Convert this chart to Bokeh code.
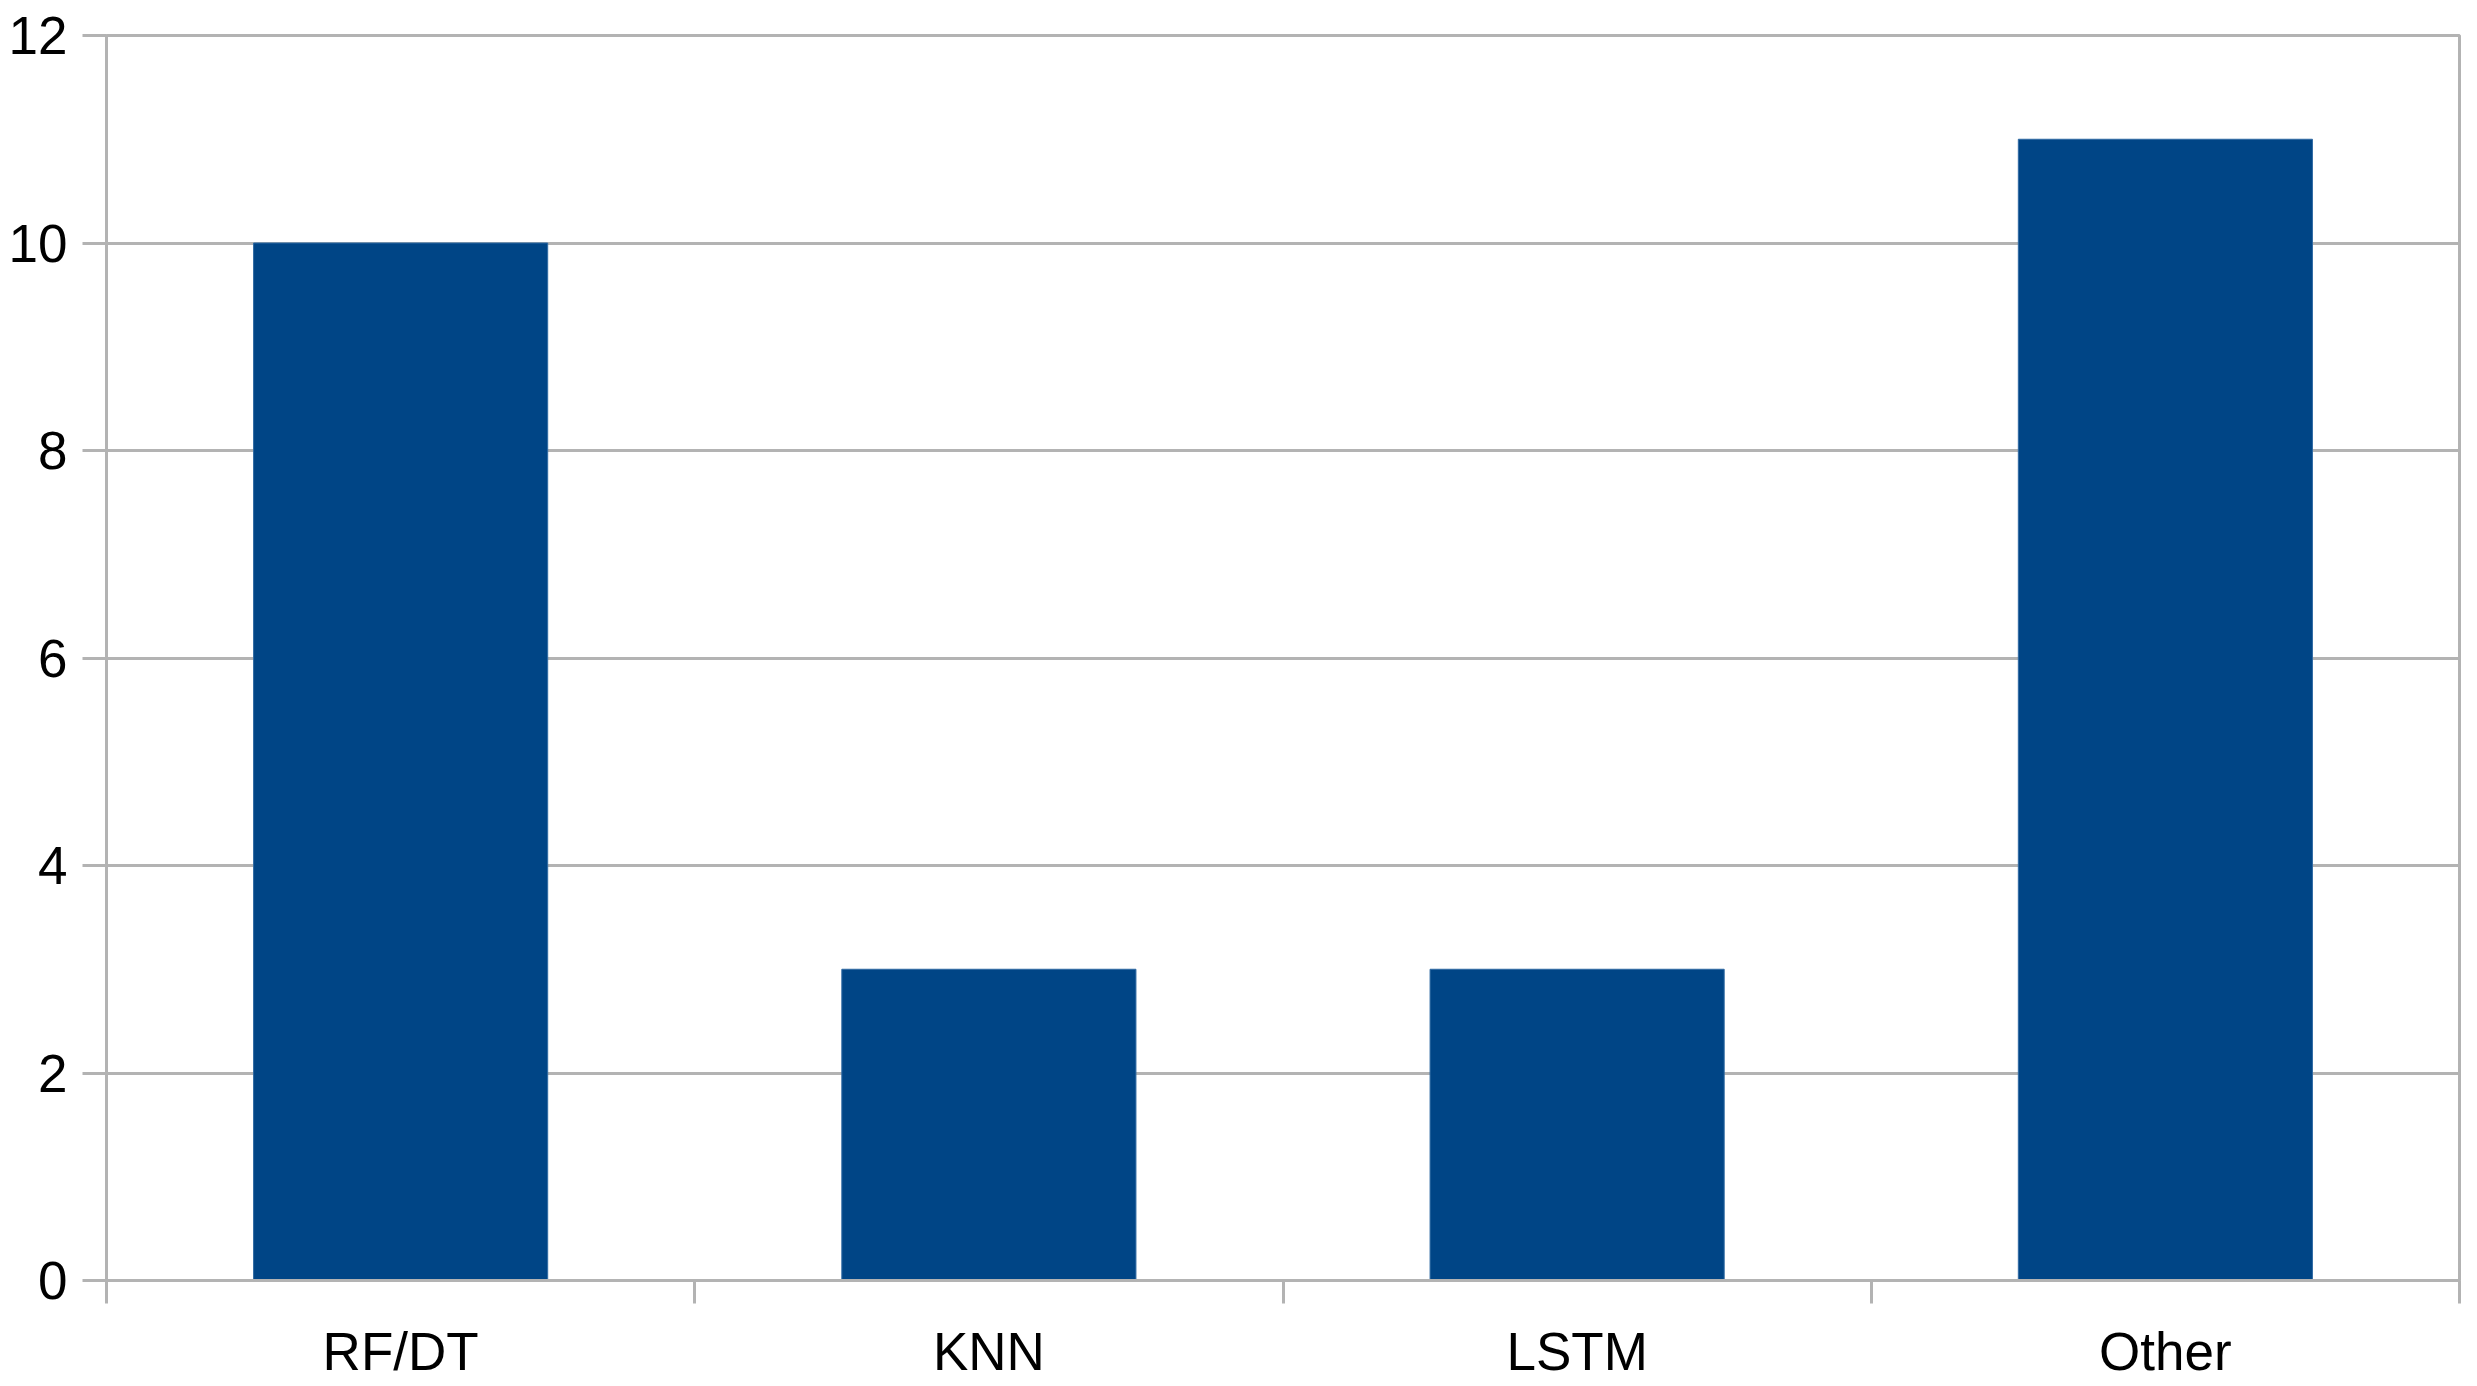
from bokeh.plotting import figure
from bokeh.models import Range1d, FixedTicker, ColumnDataSource
from bokeh.embed import file_html
from bokeh.resources import INLINE

categories = ["RF/DT", "KNN", "LSTM", "Other"]
counts = [10, 3, 3, 11]
y_ticks = [0, 2, 4, 6, 8, 10, 12]

GRID = "#b3b3b3"
BAR = "#004586"
FONT = "Liberation Sans"
FS = "53px"

centers = [i + 0.5 for i in range(len(categories))]
edges = list(range(len(categories) + 1))

p = figure(width=2461, height=1384, output_backend="svg", toolbar_location=None,
           x_range=Range1d(0, len(categories)), y_range=Range1d(0, 12),
           min_border_left=106, min_border_top=35, min_border_right=2, min_border_bottom=104)

src = ColumnDataSource(dict(x=centers, top=counts, cat=categories))
p.vbar(x="x", top="top", bottom=0, width=0.5, source=src,
       fill_color=BAR, line_color="#2f6aa3", line_width=1)

# x axis: labels at centres, ticks at category boundaries
xa = p.xaxis[0]
xa.ticker = FixedTicker(ticks=centers, minor_ticks=edges)
xa.major_label_overrides = {c: cat for c, cat in zip(centers, categories)}
xa.major_tick_line_color = None
xa.major_tick_out = 0
xa.major_tick_in = 0
xa.minor_tick_line_color = GRID
xa.minor_tick_line_width = 3
xa.minor_tick_out = 23
xa.minor_tick_in = 0
xa.axis_line_color = GRID
xa.axis_line_width = 3
xa.major_label_standoff = 18
xa.major_label_text_font = FONT
xa.major_label_text_font_size = FS
xa.major_label_text_color = "#000000"

ya = p.yaxis[0]
ya.ticker = FixedTicker(ticks=y_ticks)
ya.minor_tick_line_color = None
ya.major_tick_line_color = GRID
ya.major_tick_line_width = 3
ya.major_tick_out = 24
ya.major_tick_in = 0
ya.axis_line_color = GRID
ya.axis_line_width = 3
ya.major_label_standoff = 15
ya.major_label_text_font = FONT
ya.major_label_text_font_size = FS
ya.major_label_text_color = "#000000"

p.xgrid.grid_line_color = None
p.ygrid.grid_line_color = GRID
p.ygrid.grid_line_width = 3
p.ygrid.ticker = FixedTicker(ticks=y_ticks)

p.outline_line_color = GRID
p.outline_line_width = 3
p.background_fill_color = "white"
p.border_fill_color = "white"

open("out.html", "w").write(file_html(p, INLINE))
